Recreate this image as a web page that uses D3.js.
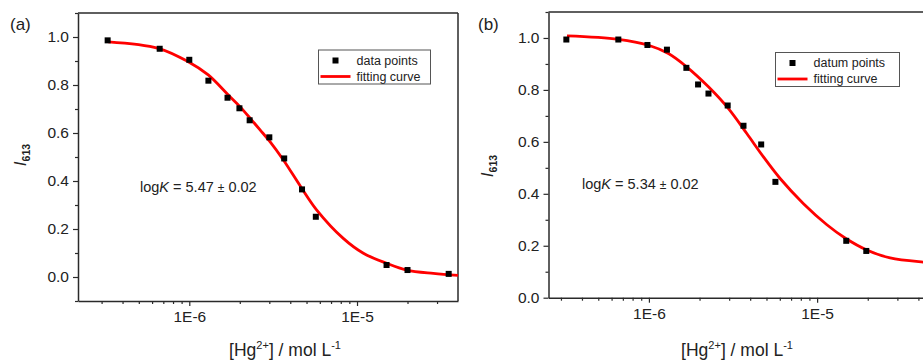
<!DOCTYPE html>
<html>
<head>
<meta charset="utf-8">
<script src="https://cdn.jsdelivr.net/npm/d3@7/dist/d3.min.js"></script>
<style>
  html, body { margin: 0; padding: 0; background: #fff; }
  svg { display: block; font-family: Arial, "Liberation Sans", sans-serif; }
</style>
</head>
<body>
<svg id="chart" width="923" height="361"></svg>
<script>
// ---------- DATA ----------
// Panel (a)
const concA = [3.26e-7, 6.66e-7, 1.0e-6, 1.30e-6, 1.69e-6, 1.99e-6, 2.29e-6, 3.0e-6, 3.68e-6, 4.7e-6, 5.68e-6, 1.5e-5, 2.0e-5, 3.52e-5];
const intensityA = [0.986, 0.951, 0.905, 0.818, 0.747, 0.703, 0.653, 0.582, 0.494, 0.365, 0.251, 0.050, 0.029, 0.013];
const fitLogConcA = [-6.483, -6.185, -6.006, -5.887, -5.767, -5.698, -5.628, -5.578, -5.519, -5.439, -5.330, -5.240, -5.082, -4.962, -4.823, -4.704, -4.545, -4.398];
const fitA = [0.980, 0.953, 0.897, 0.842, 0.758, 0.710, 0.654, 0.613, 0.564, 0.4875, 0.370, 0.279, 0.161, 0.099, 0.057, 0.029, 0.015, 0.007];

// Panel (b)
const concB = [3.23e-7, 6.58e-7, 9.8e-7, 1.28e-6, 1.67e-6, 1.96e-6, 2.26e-6, 2.94e-6, 3.65e-6, 4.65e-6, 5.65e-6, 1.49e-5, 1.96e-5];
const intensityB = [0.994, 0.994, 0.973, 0.955, 0.885, 0.821, 0.786, 0.740, 0.662, 0.590, 0.446, 0.219, 0.180];
const fitLogConcB = [-6.487, -6.181, -6.002, -5.884, -5.774, -5.646, -5.527, -5.418, -5.319, -5.220, -5.081, -4.942, -4.834, -4.705, -4.566, -4.370, -4.30];
const fitB = [1.008, 0.995, 0.972, 0.940, 0.888, 0.812, 0.728, 0.632, 0.542, 0.459, 0.362, 0.281, 0.230, 0.184, 0.153, 0.137, 0.134];

// Tick labels / text
const xMajorTicks = [1e-6, 1e-5];
const xTickLabels = ["1E-6", "1E-5"];
const yMajorTicks = [0.0, 0.2, 0.4, 0.6, 0.8, 1.0];
const yMinorTicksA = [-0.1, 0.1, 0.3, 0.5, 0.7, 0.9, 1.1];
const yMinorTicksB = [0.1, 0.3, 0.5, 0.7, 0.9, 1.1];
const panelLabels = ["(a)", "(b)"];
const legendPointLabels = ["data points", "datum points"];
const legendLineLabel = "fitting curve";
const logKValues = ["5.47", "5.34"];
const logKErrors = ["0.02", "0.02"];

// ---------- LAYOUT ----------
const panels = [
  {
    conc: concA, inten: intensityA, fitLog: fitLogConcA, fit: fitA,
    xDomain: [2.17e-7, 4.0e-5], xRange: [78, 458],
    yDomain: [-0.1, 1.1], yRange: [301, 13],
    yMinor: yMinorTicksA,
    label: panelLabels[0], labelPos: [10, 30],
    legend: { x: 318.5, y: 50, w: 112, h: 34, text: legendPointLabels[0] },
    logK: { x: 140, y: 192, v: logKValues[0], e: logKErrors[0] },
    yTitle: { x: 26, y: 155 },
    xTitle: { x: 285, y: 356 }
  },
  {
    conc: concB, inten: intensityB, fitLog: fitLogConcB, fit: fitB,
    xDomain: [2.53e-7, 5.0e-5], xRange: [548.5, 934.7],
    yDomain: [0, 1.1], yRange: [297.7, 12],
    yMinor: yMinorTicksB,
    label: panelLabels[1], labelPos: [478, 30],
    legend: { x: 775.5, y: 52.5, w: 124, h: 34, text: legendPointLabels[1] },
    logK: { x: 582, y: 188.5, v: logKValues[1], e: logKErrors[1] },
    yTitle: { x: 493, y: 166 },
    xTitle: { x: 737, y: 356 }
  }
];

const svg = d3.select("#chart");
const axisColor = "#2a2a2a";

panels.forEach((p, i) => {
  const g = svg.append("g");
  const x = d3.scaleLog().domain(p.xDomain).range(p.xRange);
  const y = d3.scaleLinear().domain(p.yDomain).range(p.yRange);

  // minor x ticks (2..9 multiples)
  const minorX = [];
  [1e-7, 1e-6, 1e-5].forEach(dec => {
    for (let k = 2; k <= 9; k++) {
      const v = dec * k;
      if (v > p.xDomain[0] && v < p.xDomain[1]) minorX.push(v);
    }
  });

  const y0 = p.yRange[0];
  const x0 = p.xRange[0];

  // bottom axis major
  const xAxis = g.append("g").attr("transform", `translate(0,${y0})`)
    .call(d3.axisBottom(x).tickValues(xMajorTicks)
      .tickFormat((d, j) => xTickLabels[j]).tickSize(5).tickSizeOuter(0).tickPadding(5));
  xAxis.append("g").call(d3.axisBottom(x).tickValues(minorX).tickFormat("").tickSize(3).tickSizeOuter(0))
    .select(".domain").remove();

  // left axis
  const yAxis = g.append("g").attr("transform", `translate(${x0},0)`)
    .call(d3.axisLeft(y).tickValues(yMajorTicks).tickFormat(d3.format(".1f"))
      .tickSize(5).tickSizeOuter(0).tickPadding(4));
  yAxis.append("g").call(d3.axisLeft(y).tickValues(p.yMinor).tickFormat("").tickSize(3).tickSizeOuter(0))
    .select(".domain").remove();

  [xAxis, yAxis].forEach(a => {
    a.selectAll("path.domain").attr("stroke", axisColor).attr("stroke-width", 1.5);
    a.selectAll(".tick line").attr("stroke", axisColor).attr("stroke-width", 1.2);
    a.selectAll(".tick text").attr("fill", "#222").style("font-size", "15.5px")
      .style("font-family", "Arial, 'Liberation Sans', sans-serif");
  });

  // top and right frame
  g.append("line").attr("x1", x0).attr("x2", p.xRange[1]).attr("y1", p.yRange[1]).attr("y2", p.yRange[1])
    .attr("stroke", axisColor).attr("stroke-width", 1.5);
  g.append("line").attr("x1", p.xRange[1]).attr("x2", p.xRange[1]).attr("y1", p.yRange[1]).attr("y2", y0)
    .attr("stroke", axisColor).attr("stroke-width", 1.5);

  // fitting curve
  const line = d3.line()
    .x((d, j) => x(Math.pow(10, p.fitLog[j])))
    .y(d => y(d))
    .curve(d3.curveCatmullRom.alpha(0.5));
  g.append("path").datum(p.fit).attr("d", line)
    .attr("fill", "none").attr("stroke", "#ff0000").attr("stroke-width", 2.8);

  // data points
  g.selectAll("rect.pt").data(p.conc).enter().append("rect")
    .attr("class", "pt")
    .attr("x", d => x(d) - 3).attr("y", (d, j) => y(p.inten[j]) - 3)
    .attr("width", 6).attr("height", 6).attr("fill", "#000");

  // legend
  const L = p.legend;
  g.append("rect").attr("x", L.x).attr("y", L.y).attr("width", L.w).attr("height", L.h)
    .attr("fill", "#fff").attr("stroke", "#555").attr("stroke-width", 1);
  g.append("rect").attr("x", L.x + 14).attr("y", L.y + 7.5).attr("width", 6).attr("height", 6).attr("fill", "#000");
  g.append("line").attr("x1", L.x + 2).attr("x2", L.x + 32).attr("y1", L.y + 26.5).attr("y2", L.y + 26.5)
    .attr("stroke", "#ff0000").attr("stroke-width", 2.8);
  g.append("text").attr("x", L.x + 38).attr("y", L.y + 14.5).text(L.text)
    .style("font-size", "12.5px").attr("fill", "#222");
  g.append("text").attr("x", L.x + 38).attr("y", L.y + 30.5).text(legendLineLabel)
    .style("font-size", "12.5px").attr("fill", "#222");

  // logK annotation
  const t = g.append("text").attr("x", p.logK.x).attr("y", p.logK.y).style("font-size", "14.5px").attr("fill", "#222");
  t.append("tspan").text("log");
  t.append("tspan").text("K").style("font-style", "italic");
  t.append("tspan").text(" = " + p.logK.v + " ");
  t.append("tspan").text("±").style("font-size", "12px");
  t.append("tspan").text(" " + p.logK.e);

  // panel label
  g.append("text").attr("x", p.labelPos[0]).attr("y", p.labelPos[1]).text(p.label)
    .style("font-size", "17px").attr("fill", "#222");

  // y title
  const yt = g.append("text").attr("transform", `translate(${p.yTitle.x},${p.yTitle.y}) rotate(-90)`)
    .attr("text-anchor", "middle").attr("fill", "#222");
  yt.append("tspan").text("I").style("font-style", "italic").style("font-size", "17px");
  yt.append("tspan").text("613").attr("dy", 4).style("font-size", "10.5px").style("font-weight", "bold");

  // x title
  const xt = g.append("text").attr("x", p.xTitle.x).attr("y", p.xTitle.y)
    .attr("text-anchor", "middle").attr("fill", "#222").style("font-size", "17.5px");
  xt.append("tspan").text("[Hg");
  xt.append("tspan").text("2+").attr("dy", -7).style("font-size", "11px");
  xt.append("tspan").text("] / mol L").attr("dy", 7);
  xt.append("tspan").text("-1").attr("dy", -7).style("font-size", "11px");
});
</script>
</body>
</html>
